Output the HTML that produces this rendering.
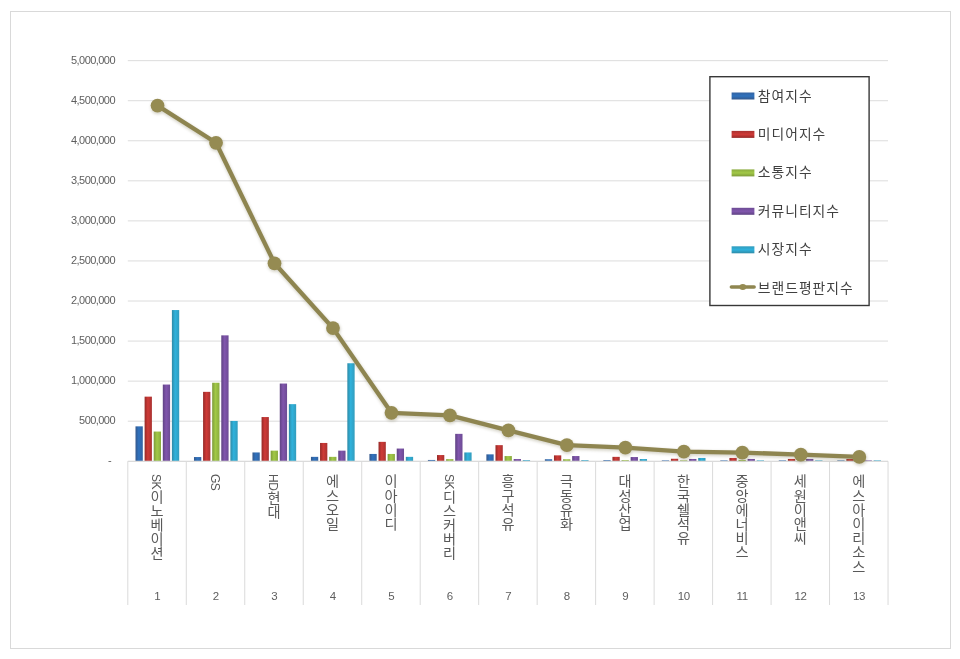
<!DOCTYPE html>
<html lang="ko"><head><meta charset="utf-8"><title>브랜드평판지수</title>
<style>
html,body{margin:0;padding:0;background:#fff;}
body{width:960px;height:659px;position:relative;overflow:hidden;font-family:"Liberation Sans","Noto Sans CJK KR",sans-serif;}
svg{position:absolute;left:0;top:0;}
.yl{position:absolute;left:40px;width:75px;text-align:right;font-size:11px;letter-spacing:-0.55px;color:#5e5e5e;line-height:12px;height:12px;white-space:pre;}
.cat{position:absolute;top:473.5px;width:20px;writing-mode:vertical-rl;text-orientation:mixed;font-size:14.2px;line-height:20px;color:#595959;white-space:nowrap;}
.cat .en{font-size:12px;letter-spacing:-0.5px;}
.num{position:absolute;top:590.2px;width:40px;text-align:center;font-size:11.5px;letter-spacing:-0.4px;line-height:12px;color:#5e5e5e;}
.lg{position:absolute;left:757.8px;font-size:13.8px;letter-spacing:1.0px;line-height:20px;height:20px;color:#404040;white-space:nowrap;}
</style></head><body>
<svg width="960" height="659" viewBox="0 0 960 659">
<defs>
<linearGradient id="gb" x1="0" y1="0" x2="1" y2="0"><stop offset="0" stop-color="#34588c"/><stop offset="0.45" stop-color="#2f72be"/><stop offset="1" stop-color="#3463a1"/></linearGradient>
<linearGradient id="hb" x1="0" y1="0" x2="0" y2="1"><stop offset="0" stop-color="#3463a1"/><stop offset="0.5" stop-color="#2f72be"/><stop offset="1" stop-color="#34588c"/></linearGradient>
<linearGradient id="gr" x1="0" y1="0" x2="1" y2="0"><stop offset="0" stop-color="#952a28"/><stop offset="0.45" stop-color="#cf3a37"/><stop offset="1" stop-color="#a93230"/></linearGradient>
<linearGradient id="hr" x1="0" y1="0" x2="0" y2="1"><stop offset="0" stop-color="#a93230"/><stop offset="0.5" stop-color="#cf3a37"/><stop offset="1" stop-color="#952a28"/></linearGradient>
<linearGradient id="gg" x1="0" y1="0" x2="1" y2="0"><stop offset="0" stop-color="#7d9a3a"/><stop offset="0.45" stop-color="#a2c947"/><stop offset="1" stop-color="#8aab3f"/></linearGradient>
<linearGradient id="hg" x1="0" y1="0" x2="0" y2="1"><stop offset="0" stop-color="#8aab3f"/><stop offset="0.5" stop-color="#a2c947"/><stop offset="1" stop-color="#7d9a3a"/></linearGradient>
<linearGradient id="gp" x1="0" y1="0" x2="1" y2="0"><stop offset="0" stop-color="#5f4383"/><stop offset="0.45" stop-color="#8156ad"/><stop offset="1" stop-color="#6c4b94"/></linearGradient>
<linearGradient id="hp" x1="0" y1="0" x2="0" y2="1"><stop offset="0" stop-color="#6c4b94"/><stop offset="0.5" stop-color="#8156ad"/><stop offset="1" stop-color="#5f4383"/></linearGradient>
<linearGradient id="gc" x1="0" y1="0" x2="1" y2="0"><stop offset="0" stop-color="#2f8aa6"/><stop offset="0.45" stop-color="#2fb2dc"/><stop offset="1" stop-color="#329cbd"/></linearGradient>
<linearGradient id="hc" x1="0" y1="0" x2="0" y2="1"><stop offset="0" stop-color="#329cbd"/><stop offset="0.5" stop-color="#2fb2dc"/><stop offset="1" stop-color="#2f8aa6"/></linearGradient>
<filter id="sh" x="-5%" y="-5%" width="110%" height="115%"><feGaussianBlur stdDeviation="1.6"/></filter>
</defs>
<rect x="10.5" y="11.5" width="940" height="637" fill="#fff" stroke="#d9d9d9" stroke-width="1"/>
<line x1="127.8" y1="60.65" x2="888" y2="60.65" stroke="#dcdcdc" stroke-width="1"/>
<line x1="127.8" y1="100.71" x2="888" y2="100.71" stroke="#dcdcdc" stroke-width="1"/>
<line x1="127.8" y1="140.77" x2="888" y2="140.77" stroke="#dcdcdc" stroke-width="1"/>
<line x1="127.8" y1="180.83" x2="888" y2="180.83" stroke="#dcdcdc" stroke-width="1"/>
<line x1="127.8" y1="220.89" x2="888" y2="220.89" stroke="#dcdcdc" stroke-width="1"/>
<line x1="127.8" y1="260.95" x2="888" y2="260.95" stroke="#dcdcdc" stroke-width="1"/>
<line x1="127.8" y1="301.01" x2="888" y2="301.01" stroke="#dcdcdc" stroke-width="1"/>
<line x1="127.8" y1="341.07" x2="888" y2="341.07" stroke="#dcdcdc" stroke-width="1"/>
<line x1="127.8" y1="381.13" x2="888" y2="381.13" stroke="#dcdcdc" stroke-width="1"/>
<line x1="127.8" y1="421.19" x2="888" y2="421.19" stroke="#dcdcdc" stroke-width="1"/>
<rect x="135.50" y="426.35" width="7.3" height="34.60" fill="url(#gb)"/>
<rect x="144.60" y="396.65" width="7.3" height="64.30" fill="url(#gr)"/>
<rect x="153.70" y="431.55" width="7.3" height="29.40" fill="url(#gg)"/>
<rect x="162.80" y="384.55" width="7.3" height="76.40" fill="url(#gp)"/>
<rect x="171.90" y="310.05" width="7.3" height="150.90" fill="url(#gc)"/>
<rect x="193.98" y="457.05" width="7.3" height="3.90" fill="url(#gb)"/>
<rect x="203.08" y="391.85" width="7.3" height="69.10" fill="url(#gr)"/>
<rect x="212.18" y="382.75" width="7.3" height="78.20" fill="url(#gg)"/>
<rect x="221.28" y="335.35" width="7.3" height="125.60" fill="url(#gp)"/>
<rect x="230.38" y="420.95" width="7.3" height="40.00" fill="url(#gc)"/>
<rect x="252.46" y="452.45" width="7.3" height="8.50" fill="url(#gb)"/>
<rect x="261.56" y="417.05" width="7.3" height="43.90" fill="url(#gr)"/>
<rect x="270.66" y="450.65" width="7.3" height="10.30" fill="url(#gg)"/>
<rect x="279.76" y="383.55" width="7.3" height="77.40" fill="url(#gp)"/>
<rect x="288.86" y="404.15" width="7.3" height="56.80" fill="url(#gc)"/>
<rect x="310.94" y="456.85" width="7.3" height="4.10" fill="url(#gb)"/>
<rect x="320.04" y="442.95" width="7.3" height="18.00" fill="url(#gr)"/>
<rect x="329.14" y="456.85" width="7.3" height="4.10" fill="url(#gg)"/>
<rect x="338.24" y="450.65" width="7.3" height="10.30" fill="url(#gp)"/>
<rect x="347.34" y="363.25" width="7.3" height="97.70" fill="url(#gc)"/>
<rect x="369.42" y="453.95" width="7.3" height="7.00" fill="url(#gb)"/>
<rect x="378.52" y="441.85" width="7.3" height="19.10" fill="url(#gr)"/>
<rect x="387.62" y="453.95" width="7.3" height="7.00" fill="url(#gg)"/>
<rect x="396.72" y="448.55" width="7.3" height="12.40" fill="url(#gp)"/>
<rect x="405.82" y="456.85" width="7.3" height="4.10" fill="url(#gc)"/>
<rect x="427.90" y="459.95" width="7.3" height="1.00" fill="url(#gb)"/>
<rect x="437.00" y="455.05" width="7.3" height="5.90" fill="url(#gr)"/>
<rect x="446.10" y="459.15" width="7.3" height="1.80" fill="url(#gg)"/>
<rect x="455.20" y="433.85" width="7.3" height="27.10" fill="url(#gp)"/>
<rect x="464.30" y="452.45" width="7.3" height="8.50" fill="url(#gc)"/>
<rect x="486.38" y="454.35" width="7.3" height="6.60" fill="url(#gb)"/>
<rect x="495.48" y="445.15" width="7.3" height="15.80" fill="url(#gr)"/>
<rect x="504.58" y="456.05" width="7.3" height="4.90" fill="url(#gg)"/>
<rect x="513.68" y="459.05" width="7.3" height="1.90" fill="url(#gp)"/>
<rect x="522.78" y="460.15" width="7.3" height="0.80" fill="url(#gc)"/>
<rect x="544.86" y="459.25" width="7.3" height="1.70" fill="url(#gb)"/>
<rect x="553.96" y="455.35" width="7.3" height="5.60" fill="url(#gr)"/>
<rect x="563.06" y="459.25" width="7.3" height="1.70" fill="url(#gg)"/>
<rect x="572.16" y="456.05" width="7.3" height="4.90" fill="url(#gp)"/>
<rect x="581.26" y="460.15" width="7.3" height="0.80" fill="url(#gc)"/>
<rect x="603.34" y="460.15" width="7.3" height="0.80" fill="url(#gb)"/>
<rect x="612.44" y="456.85" width="7.3" height="4.10" fill="url(#gr)"/>
<rect x="621.54" y="460.15" width="7.3" height="0.80" fill="url(#gg)"/>
<rect x="630.64" y="457.05" width="7.3" height="3.90" fill="url(#gp)"/>
<rect x="639.74" y="459.05" width="7.3" height="1.90" fill="url(#gc)"/>
<rect x="661.82" y="460.35" width="7.3" height="0.60" fill="url(#gb)"/>
<rect x="670.92" y="458.75" width="7.3" height="2.20" fill="url(#gr)"/>
<rect x="680.02" y="460.35" width="7.3" height="0.60" fill="url(#gg)"/>
<rect x="689.12" y="458.95" width="7.3" height="2.00" fill="url(#gp)"/>
<rect x="698.22" y="457.95" width="7.3" height="3.00" fill="url(#gc)"/>
<rect x="720.30" y="460.35" width="7.3" height="0.60" fill="url(#gb)"/>
<rect x="729.40" y="457.95" width="7.3" height="3.00" fill="url(#gr)"/>
<rect x="738.50" y="459.95" width="7.3" height="1.00" fill="url(#gg)"/>
<rect x="747.60" y="458.95" width="7.3" height="2.00" fill="url(#gp)"/>
<rect x="756.70" y="460.35" width="7.3" height="0.60" fill="url(#gc)"/>
<rect x="778.78" y="460.35" width="7.3" height="0.60" fill="url(#gb)"/>
<rect x="787.88" y="458.95" width="7.3" height="2.00" fill="url(#gr)"/>
<rect x="796.98" y="460.45" width="7.3" height="0.50" fill="url(#gg)"/>
<rect x="806.08" y="458.95" width="7.3" height="2.00" fill="url(#gp)"/>
<rect x="815.18" y="460.35" width="7.3" height="0.60" fill="url(#gc)"/>
<rect x="837.26" y="460.35" width="7.3" height="0.60" fill="url(#gb)"/>
<rect x="846.36" y="458.95" width="7.3" height="2.00" fill="url(#gr)"/>
<rect x="855.46" y="460.55" width="7.3" height="0.40" fill="url(#gg)"/>
<rect x="864.56" y="460.35" width="7.3" height="0.60" fill="url(#gp)"/>
<rect x="873.66" y="460.35" width="7.3" height="0.60" fill="url(#gc)"/>
<line x1="127.8" y1="461.25" x2="888" y2="461.25" stroke="#d0d0d0" stroke-width="1"/>
<line x1="127.80" y1="461.25" x2="127.80" y2="605" stroke="#dadada" stroke-width="1"/>
<line x1="186.28" y1="461.25" x2="186.28" y2="605" stroke="#dadada" stroke-width="1"/>
<line x1="244.76" y1="461.25" x2="244.76" y2="605" stroke="#dadada" stroke-width="1"/>
<line x1="303.24" y1="461.25" x2="303.24" y2="605" stroke="#dadada" stroke-width="1"/>
<line x1="361.72" y1="461.25" x2="361.72" y2="605" stroke="#dadada" stroke-width="1"/>
<line x1="420.20" y1="461.25" x2="420.20" y2="605" stroke="#dadada" stroke-width="1"/>
<line x1="478.68" y1="461.25" x2="478.68" y2="605" stroke="#dadada" stroke-width="1"/>
<line x1="537.16" y1="461.25" x2="537.16" y2="605" stroke="#dadada" stroke-width="1"/>
<line x1="595.64" y1="461.25" x2="595.64" y2="605" stroke="#dadada" stroke-width="1"/>
<line x1="654.12" y1="461.25" x2="654.12" y2="605" stroke="#dadada" stroke-width="1"/>
<line x1="712.60" y1="461.25" x2="712.60" y2="605" stroke="#dadada" stroke-width="1"/>
<line x1="771.08" y1="461.25" x2="771.08" y2="605" stroke="#dadada" stroke-width="1"/>
<line x1="829.56" y1="461.25" x2="829.56" y2="605" stroke="#dadada" stroke-width="1"/>
<line x1="888.04" y1="461.25" x2="888.04" y2="605" stroke="#dadada" stroke-width="1"/>
<g filter="url(#sh)" opacity="0.28" transform="translate(0.5,1.5)"><polyline points="157.54,105.60 216.02,142.80 274.50,263.30 332.98,328.10 391.46,412.80 449.94,415.40 508.42,430.40 566.90,445.20 625.38,447.60 683.86,451.60 742.34,452.60 800.82,454.60 859.30,456.90" fill="none" stroke="#6b643a" stroke-width="5" stroke-linejoin="round"/>
<circle cx="157.54" cy="105.60" r="7.2" fill="#6b643a"/>
<circle cx="216.02" cy="142.80" r="7.2" fill="#6b643a"/>
<circle cx="274.50" cy="263.30" r="7.2" fill="#6b643a"/>
<circle cx="332.98" cy="328.10" r="7.2" fill="#6b643a"/>
<circle cx="391.46" cy="412.80" r="7.2" fill="#6b643a"/>
<circle cx="449.94" cy="415.40" r="7.2" fill="#6b643a"/>
<circle cx="508.42" cy="430.40" r="7.2" fill="#6b643a"/>
<circle cx="566.90" cy="445.20" r="7.2" fill="#6b643a"/>
<circle cx="625.38" cy="447.60" r="7.2" fill="#6b643a"/>
<circle cx="683.86" cy="451.60" r="7.2" fill="#6b643a"/>
<circle cx="742.34" cy="452.60" r="7.2" fill="#6b643a"/>
<circle cx="800.82" cy="454.60" r="7.2" fill="#6b643a"/>
<circle cx="859.30" cy="456.90" r="7.2" fill="#6b643a"/>
</g>
<polyline points="157.54,105.60 216.02,142.80 274.50,263.30 332.98,328.10 391.46,412.80 449.94,415.40 508.42,430.40 566.90,445.20 625.38,447.60 683.86,451.60 742.34,452.60 800.82,454.60 859.30,456.90" fill="none" stroke="#8e8550" stroke-width="4.3" stroke-linejoin="round" stroke-linecap="round"/>
<circle cx="157.54" cy="105.60" r="6.9" fill="#958b52"/>
<circle cx="216.02" cy="142.80" r="6.9" fill="#958b52"/>
<circle cx="274.50" cy="263.30" r="6.9" fill="#958b52"/>
<circle cx="332.98" cy="328.10" r="6.9" fill="#958b52"/>
<circle cx="391.46" cy="412.80" r="6.9" fill="#958b52"/>
<circle cx="449.94" cy="415.40" r="6.9" fill="#958b52"/>
<circle cx="508.42" cy="430.40" r="6.9" fill="#958b52"/>
<circle cx="566.90" cy="445.20" r="6.9" fill="#958b52"/>
<circle cx="625.38" cy="447.60" r="6.9" fill="#958b52"/>
<circle cx="683.86" cy="451.60" r="6.9" fill="#958b52"/>
<circle cx="742.34" cy="452.60" r="6.9" fill="#958b52"/>
<circle cx="800.82" cy="454.60" r="6.9" fill="#958b52"/>
<circle cx="859.30" cy="456.90" r="6.9" fill="#958b52"/>
<rect x="709.9" y="76.7" width="159.2" height="228.8" fill="#fff" stroke="#383838" stroke-width="1.4"/>
<rect x="731.6" y="92.5" width="22.8" height="7" fill="url(#hb)"/>
<rect x="731.6" y="130.9" width="22.8" height="7" fill="url(#hr)"/>
<rect x="731.6" y="169.4" width="22.8" height="7" fill="url(#hg)"/>
<rect x="731.6" y="207.8" width="22.8" height="7" fill="url(#hp)"/>
<rect x="731.6" y="246.3" width="22.8" height="7" fill="url(#hc)"/>
<line x1="731.4" y1="287" x2="754.1" y2="287" stroke="#8f8650" stroke-width="3.6" stroke-linecap="round"/>
<ellipse cx="742.8" cy="287" rx="3.4" ry="2.9" fill="#958b52"/>
</svg>
<div class="yl" style="top:53.85px">5,000,000</div>
<div class="yl" style="top:93.91px">4,500,000</div>
<div class="yl" style="top:133.97px">4,000,000</div>
<div class="yl" style="top:174.03px">3,500,000</div>
<div class="yl" style="top:214.09px">3,000,000</div>
<div class="yl" style="top:254.15px">2,500,000</div>
<div class="yl" style="top:294.21px">2,000,000</div>
<div class="yl" style="top:334.27px">1,500,000</div>
<div class="yl" style="top:374.33px">1,000,000</div>
<div class="yl" style="top:414.39px">500,000</div>
<div class="yl" style="top:453.85px;left:36px">-</div>
<div class="cat" style="left:146.14px"><span class="en">SK</span>이노베이션</div>
<div class="num" style="left:137.34px">1</div>
<div class="cat" style="left:204.62px"><span class="en">GS</span></div>
<div class="num" style="left:195.82px">2</div>
<div class="cat" style="left:263.10px"><span class="en">HD</span>현대</div>
<div class="num" style="left:254.30px">3</div>
<div class="cat" style="left:321.58px">에스오일</div>
<div class="num" style="left:312.78px">4</div>
<div class="cat" style="left:380.06px">이아이디</div>
<div class="num" style="left:371.26px">5</div>
<div class="cat" style="left:438.54px"><span class="en">SK</span>디스커버리</div>
<div class="num" style="left:429.74px">6</div>
<div class="cat" style="left:497.02px">흥구석유</div>
<div class="num" style="left:488.22px">7</div>
<div class="cat" style="left:555.50px">극동유화</div>
<div class="num" style="left:546.70px">8</div>
<div class="cat" style="left:613.98px">대성산업</div>
<div class="num" style="left:605.18px">9</div>
<div class="cat" style="left:672.46px">한국쉘석유</div>
<div class="num" style="left:663.66px">10</div>
<div class="cat" style="left:730.94px">중앙에너비스</div>
<div class="num" style="left:722.14px">11</div>
<div class="cat" style="left:789.42px">세원이앤씨</div>
<div class="num" style="left:780.62px">12</div>
<div class="cat" style="left:847.90px">에스아이리소스</div>
<div class="num" style="left:839.10px">13</div>
<div class="lg" style="top:86.50px">참여지수</div>
<div class="lg" style="top:124.90px">미디어지수</div>
<div class="lg" style="top:163.40px">소통지수</div>
<div class="lg" style="top:201.80px">커뮤니티지수</div>
<div class="lg" style="top:240.30px">시장지수</div>
<div class="lg" style="top:278.70px">브랜드평판지수</div>
</body></html>
